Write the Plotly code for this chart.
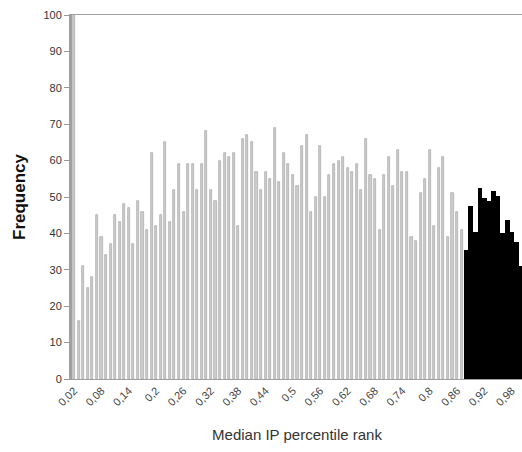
import plotly.graph_objects as go

gray_x = [round(0.02 + 0.01 * i, 2) for i in range(86)]  # 0.02 .. 0.87
gray_vals = [100, 16, 31, 25, 28, 45, 39, 34, 37, 45,
             43, 48, 47, 37, 49, 46, 41, 62, 42, 45,
             65, 43, 52, 59, 46, 59, 59, 52, 59, 68,
             52, 49, 60, 62, 61, 62, 42, 66, 67, 65,
             57, 52, 57, 55, 69, 54, 62, 59, 56, 53,
             64, 67, 46, 50, 64, 50, 56, 59, 60, 61,
             58, 57, 59, 52, 66, 56, 55, 41, 56, 61,
             53, 63, 57, 57, 39, 38, 51, 55, 63, 42,
             58, 61, 39, 51, 46, 41]
black_x = [round(0.88 + 0.01 * i, 2) for i in range(13)]  # 0.88 .. 1.00
black_vals = [35.5, 47.5, 40.5, 52.5, 49.8, 49, 51.6, 50.4, 40, 43.6, 40.4, 37.6, 31]

tick_vals = [0.02, 0.08, 0.14, 0.2, 0.26, 0.32, 0.38, 0.44, 0.5, 0.56, 0.62, 0.68, 0.74, 0.8, 0.86, 0.92, 0.98]
tick_text = [str(v).replace(".", ",") for v in tick_vals]
y_ticks = list(range(0, 101, 10))

fig = go.Figure()
fig.add_trace(go.Bar(x=gray_x, y=gray_vals, width=0.0046,
                     marker=dict(color="#cdcdcd", line=dict(color="#a8a8a8", width=0.7)),
                     showlegend=False))
fig.add_trace(go.Bar(x=black_x, y=black_vals, width=0.0101,
                     marker=dict(color="#000000", line=dict(width=0)),
                     showlegend=False))

fig.update_layout(
    width=522, height=452,
    margin=dict(l=72, r=0, t=15, b=73),
    paper_bgcolor="white", plot_bgcolor="white",
    barmode="overlay", bargap=0,
    font=dict(family="Liberation Sans, Arial, sans-serif", color="#333"),
    xaxis=dict(range=[0.0153, 1.0024], tickvals=tick_vals, ticktext=tick_text,
               tickangle=-45, tickfont=dict(size=11, color="#444"),
               showgrid=False, zeroline=False, showline=True, mirror=True,
               linecolor="#a0a0a0", linewidth=1, ticks="",
               title=dict(text="Median IP percentile rank", font=dict(size=15, color="#333"), standoff=22)),
    yaxis=dict(range=[0, 100], tickvals=y_ticks, tickfont=dict(size=11, color="#333"),
               showgrid=False, zeroline=False, showline=True, linecolor="#a0a0a0", linewidth=3,
               ticks="outside", ticklen=5, tickcolor="#999999", tickwidth=1,
               title=dict(text="<b>Frequency</b>", font=dict(size=17, color="#111"), standoff=14)),
)

fig.write_html("out.html")
